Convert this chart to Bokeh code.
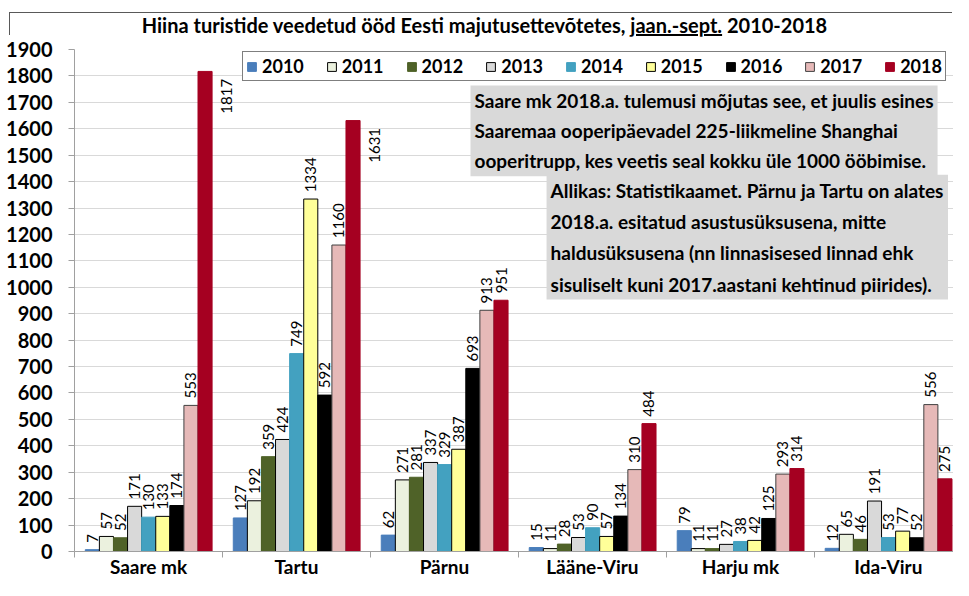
import math
from bokeh.plotting import figure
from bokeh.models import (ColumnDataSource, FixedTicker, Legend, LegendItem, Label, Div,
                          Range1d, BoxAnnotation)
from bokeh.layouts import column
from bokeh.embed import file_html
from bokeh.resources import INLINE
from bokeh.core.properties import value

categories = ["Saare mk", "Tartu", "Pärnu", "Lääne-Viru", "Harju mk", "Ida-Viru"]
years = ["2010", "2011", "2012", "2013", "2014", "2015", "2016", "2017", "2018"]
v2010 = [7, 127, 62, 15, 79, 12]
v2011 = [57, 192, 271, 11, 11, 65]
v2012 = [52, 359, 281, 28, 11, 46]
v2013 = [171, 424, 337, 53, 27, 191]
v2014 = [130, 749, 329, 90, 38, 53]
v2015 = [133, 1334, 387, 57, 42, 77]
v2016 = [174, 592, 693, 134, 125, 52]
v2017 = [553, 1160, 913, 310, 293, 556]
v2018 = [1817, 1631, 951, 484, 314, 275]
series = [v2010, v2011, v2012, v2013, v2014, v2015, v2016, v2017, v2018]
y_ticks = list(range(0, 2000, 100))

colors = ["#4A7EBB", "#EBF1DE", "#4F6228", "#D9D9D9", "#43A1C0",
          "#FFFF99", "#000000", "#E6B9B8", "#A50021"]
outlines = [None, "#000000", None, "#000000", None, "#000000", None, "#404040", None]

FONT = "Lato"
BAR_W = 0.0952
GROUP_PAD = 0.073

p = figure(width=953, height=544, x_range=Range1d(0, 5.94), y_range=Range1d(0, 1900),
           output_backend="svg", toolbar_location=None,
           min_border_left=74, min_border_right=0, min_border_top=13, min_border_bottom=26)
p.outline_line_color = None
p.background_fill_color = "white"
p.border_fill_color = "white"

p.xgrid.visible = False
p.ygrid.ticker = FixedTicker(ticks=y_ticks)
p.ygrid.grid_line_color = "#D9D9D9"
p.ygrid.grid_line_width = 1

yax = p.yaxis[0]
yax.ticker = FixedTicker(ticks=y_ticks)
yax.axis_line_color = "#A0A0A0"
yax.major_tick_line_color = "#A0A0A0"
yax.major_tick_out = 6
yax.major_tick_in = 0
yax.minor_tick_line_color = None
yax.major_label_text_font = FONT
yax.major_label_text_font_style = "bold"
yax.major_label_text_font_size = "20px"
yax.major_label_text_color = "#000000"
yax.major_label_standoff = 16

xax = p.xaxis[0]
centers = [i + 0.5 for i in range(len(categories))]
xax.ticker = FixedTicker(ticks=centers, minor_ticks=list(range(len(categories) + 1)))
xax.major_label_overrides = {c: name for c, name in zip(centers, categories)}
xax.axis_line_color = "#A0A0A0"
xax.major_tick_line_color = None
xax.major_tick_out = 0
xax.major_tick_in = 0
xax.minor_tick_line_color = "#A0A0A0"
xax.minor_tick_out = 6
xax.minor_tick_in = 0
xax.major_label_text_font = FONT
xax.major_label_text_font_style = "bold"
xax.major_label_text_font_size = "19px"
xax.major_label_text_color = "#000000"
xax.major_label_standoff = -3

items = []
for i, (yr, vals) in enumerate(zip(years, series)):
    xs = [g + GROUP_PAD + (i + 0.5) * BAR_W for g in range(len(categories))]
    src = ColumnDataSource(dict(x=xs, top=vals))
    r = p.vbar(x="x", top="top", width=BAR_W, source=src, fill_color=colors[i],
               line_color=outlines[i] if outlines[i] else colors[i], line_width=1)
    items.append(LegendItem(label=yr, renderers=[r]))
    # value labels (the two tallest 2018 labels sit beside their bars)
    normal_idx = [k for k in range(len(vals)) if not (i == 8 and vals[k] > 1500)]
    side_idx = [k for k in range(len(vals)) if (i == 8 and vals[k] > 1500)]
    if normal_idx:
        s1 = ColumnDataSource(dict(x=[xs[k] for k in normal_idx],
                                   y=[vals[k] + 26 for k in normal_idx],
                                   t=[str(vals[k]) for k in normal_idx]))
        p.text(x="x", y="y", text="t", source=s1, angle=math.pi / 2,
               text_align="left", text_baseline="middle",
               text_font=value(FONT), text_font_size="15px", text_color="#000000")
    if side_idx:
        s2 = ColumnDataSource(dict(x=[xs[k] + 0.148 for k in side_idx],
                                   y=[vals[k] - 28 for k in side_idx],
                                   t=[str(vals[k]) for k in side_idx]))
        p.text(x="x", y="y", text="t", source=s2, angle=math.pi / 2,
               text_align="right", text_baseline="middle",
               text_font=value(FONT), text_font_size="15px", text_color="#000000")

legend = Legend(items=items, orientation="horizontal", location=(168, 470),
                border_line_color="#000000", border_line_width=1,
                background_fill_color="white", background_fill_alpha=1,
                label_text_font=FONT, label_text_font_style="bold",
                label_text_font_size="18px", label_text_color="#000000",
                glyph_width=11, glyph_height=11, label_standoff=5,
                spacing=22, padding=3, margin=0, label_height=19)
p.add_layout(legend, "center")

note1 = ("Saare mk 2018.a. tulemusi mõjutas see, et juulis esines\n"
         "Saaremaa ooperipäevadel 225-liikmeline Shanghai\n"
         "ooperitrupp, kes veetis seal kokku üle 1000 ööbimise.")
note2 = ("Allikas: Statistikaamet. Pärnu ja Tartu on alates\n"
         "2018.a. esitatud asustusüksusena, mitte\n"
         "haldusüksusena (nn linnasisesed linnad ehk\n"
         "sisuliselt kuni 2017.aastani kehtinud piirides).")
lab1 = Label(x=2.676, y=1764, text=note1, text_align="left", text_baseline="top",
             text_font=FONT, text_font_style="bold", text_font_size="19px",
             text_color="#000000", text_line_height=1.3,
             background_fill_color="#D9D9D9", padding=4)
lab2 = Label(x=3.19, y=1426, text=note2, text_align="left", text_baseline="top",
             text_font=FONT, text_font_style="bold", text_font_size="19px",
             text_color="#000000", text_line_height=1.36,
             background_fill_color="#D9D9D9", padding=4)
p.add_layout(lab1)
p.add_layout(lab2)

# chart-area border (left edge) continuing below the title strip
try:
    border = BoxAnnotation(left=9, right=5000, top=-50, bottom=5000,
                           left_units="canvas", right_units="canvas",
                           top_units="canvas", bottom_units="canvas",
                           fill_alpha=0, line_color="#595959", line_width=1)
    p.add_layout(border)
except Exception:
    pass

title_html = (
    '<div style="position:relative;width:953px;height:36px;">'
    '<div style="position:absolute;left:9px;top:12px;width:943px;height:23px;'
    'border-top:1px solid #595959;border-left:1px solid #595959;"></div>'
    '<div style="position:absolute;left:16px;right:0;top:14px;height:22px;line-height:22px;'
    'text-align:center;font-family:Lato;font-weight:bold;font-size:20px;color:#000;'
    'white-space:nowrap;">'
    'Hiina turistide veedetud ööd Eesti majutusettevõtetes, <u>jaan.-sept.</u> 2010-2018'
    '</div></div>'
)
title = Div(text=title_html, width=953, height=36, margin=(0, 0, 0, 0))

layout = column(title, p, spacing=0)
open("out.html", "w").write(file_html(layout, INLINE))
